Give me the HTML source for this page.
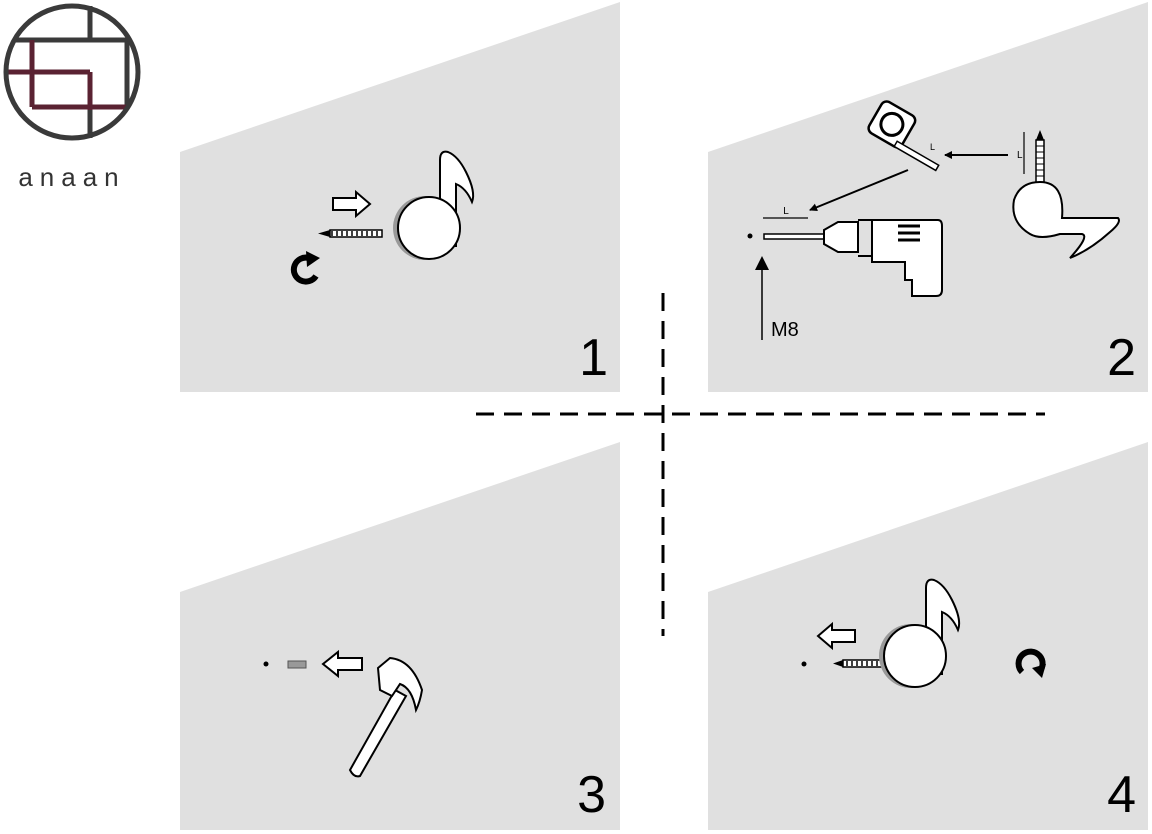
<!DOCTYPE html>
<html><head><meta charset="utf-8"><style>
html,body{margin:0;padding:0;background:#fff;}
svg{display:block;}
text{font-family:"Liberation Sans",sans-serif;}
</style></head><body>
<svg width="1152" height="834" viewBox="0 0 1152 834" xmlns="http://www.w3.org/2000/svg">
<defs>
<marker id="ah" markerWidth="8" markerHeight="8" refX="7" refY="4" orient="auto" markerUnits="userSpaceOnUse"><path d="M0,0 L8,4 L0,8z" fill="#000"/></marker>
<marker id="ahb" markerWidth="14" markerHeight="14" refX="12" refY="7" orient="auto" markerUnits="userSpaceOnUse"><path d="M0,0 L14,7 L0,14z" fill="#000"/></marker>
</defs>
<g fill="#e0e0e0">
<polygon points="180,152 620,2 620,392 180,392"/>
<polygon points="708,152 1148,2 1148,392 708,392"/>
<polygon points="180,592 620,442 620,830 180,830"/>
<polygon points="708,592 1148,442 1148,830 708,830"/>
</g>
<line x1="663" y1="293" x2="663" y2="636" stroke="#000" stroke-width="3" stroke-dasharray="18,10"/>
<line x1="476" y1="414" x2="1045" y2="414" stroke="#000" stroke-width="3" stroke-dasharray="18,10"/>
<g fill="none" stroke-width="5">
<line x1="90" y1="6" x2="90" y2="40" stroke="#3a3a3a"/>
<line x1="14" y1="40" x2="129" y2="40" stroke="#3a3a3a"/>
<line x1="127" y1="40" x2="127" y2="107" stroke="#3a3a3a"/>
<line x1="90" y1="107" x2="90" y2="138" stroke="#3a3a3a"/>
<line x1="32" y1="40" x2="32" y2="107" stroke="#5a2232"/>
<line x1="6" y1="72" x2="90" y2="72" stroke="#5a2232"/>
<line x1="90" y1="72" x2="90" y2="110" stroke="#5a2232"/>
<line x1="32" y1="107" x2="127" y2="107" stroke="#5a2232"/>
<circle cx="72" cy="72" r="66" stroke="#3a3a3a" stroke-width="5"/>
</g>
<text x="72" y="186" font-size="26" fill="#333" text-anchor="middle" letter-spacing="7">anaan</text>
<g id="n1">
<path d="M440,246 L440,160 Q440,150 448,152 Q458,156 466,172 Q476,192 472,202 Q466,188 456,184 L456,246z" fill="#fff" stroke="#000" stroke-width="2"/>
<circle cx="425" cy="228" r="32" fill="#999"/>
<circle cx="429" cy="228" r="31" fill="#fff" stroke="#000" stroke-width="2"/>
</g>
<path d="M333,198 L356,198 L356,192 L370,204 L356,216 L356,210 L333,210z" fill="#fff" stroke="#000" stroke-width="2"/>
<rect x="330" y="230" width="52" height="7" fill="#fff" stroke="#000" stroke-width="1.5"/>
<path d="M332,231 v5 M337,231 v5 M342,231 v5 M347,231 v5 M352,231 v5 M357,231 v5 M362,231 v5 M367,231 v5 M372,231 v5 M377,231 v5" stroke="#000" stroke-width="1.5"/>
<path d="M330,230 L318,233.5 L330,237z" fill="#000"/>
<path d="M316,276 A12,12 0 1,1 309,258" fill="none" stroke="#000" stroke-width="6"/>
<path d="M306,251 L320,258 L307,267z" fill="#000"/>
<text x="608" y="375" font-size="52" text-anchor="end">1</text>
<circle cx="750" cy="236" r="2.5" fill="#000"/>
<line x1="763" y1="218" x2="808" y2="218" stroke="#000" stroke-width="1.2"/>
<text x="786" y="214" font-size="10" text-anchor="middle">L</text>
<rect x="764" y="234" width="60" height="5" fill="#fff" stroke="#000" stroke-width="1.5"/>
<path d="M824,230 L838,222 L858,222 L858,252 L838,252 L824,244z" fill="#fff" stroke="#000" stroke-width="2"/>
<path d="M872,220 L938,220 Q942,220 942,226 L942,290 Q942,296 936,296 L912,296 L912,280 L905,280 L905,262 L872,262z" fill="#fff" stroke="#000" stroke-width="2"/>
<line x1="858" y1="220" x2="872" y2="220" stroke="#000" stroke-width="2"/>
<line x1="858" y1="256" x2="872" y2="256" stroke="#000" stroke-width="2"/>
<path d="M898,226 h22 M898,233 h22 M898,240 h22" stroke="#000" stroke-width="3"/>
<line x1="762" y1="340" x2="762" y2="258" stroke="#000" stroke-width="1.5" marker-end="url(#ahb)"/>
<text x="771" y="336" font-size="20">M8</text>
<line x1="908" y1="170" x2="810" y2="210" stroke="#000" stroke-width="2" marker-end="url(#ah)"/>
<line x1="1008" y1="155" x2="945" y2="155" stroke="#000" stroke-width="2" marker-end="url(#ah)"/>
<text x="1017" y="158" font-size="10">L</text>
<line x1="1024" y1="132" x2="1024" y2="174" stroke="#000" stroke-width="1.2"/>
<g transform="rotate(30 895 125)">
<rect x="873" y="108" width="38" height="36" rx="6" fill="#fff" stroke="#000" stroke-width="2.5"/>
<circle cx="892" cy="126" r="11" fill="#fff" stroke="#000" stroke-width="3"/>
<rect x="905" y="138" width="48" height="6" fill="#fff" stroke="#000" stroke-width="1.5"/>
</g>
<text x="930" y="150" font-size="9">L</text>
<rect x="1036" y="140" width="8" height="44" fill="#fff" stroke="#000" stroke-width="1.5"/>
<path d="M1036,146 h8 M1036,152 h8 M1036,158 h8 M1036,164 h8 M1036,170 h8 M1036,176 h8" stroke="#000"/>
<path d="M1036,140 L1040,130 L1044,140z" fill="#000"/>
<path d="M1040,182 Q1065,182 1062,218 L1118,218 Q1122,222 1110,232 Q1090,250 1070,258 Q1090,236 1082,234 L1060,234 Q1040,240 1030,234 Q1010,222 1014,200 Q1020,182 1040,182z" fill="#fff" stroke="#000" stroke-width="2"/>
<text x="1136" y="375" font-size="52" text-anchor="end">2</text>
<circle cx="266" cy="664" r="2.5" fill="#000"/>
<rect x="288" y="661" width="18" height="7" fill="#999" stroke="#555"/>
<path d="M362,658 L338,658 L338,652 L323,664 L338,676 L338,670 L362,670z" fill="#fff" stroke="#000" stroke-width="2"/>
<path d="M395,690 L350,770 Q354,778 360,776 L406,696z" fill="#fff" stroke="#000" stroke-width="2"/>
<path d="M378,668 L390,658 Q412,660 422,690 Q420,702 416,710 Q412,688 400,684 L392,696 L380,690z" fill="#fff" stroke="#000" stroke-width="2"/>
<text x="606" y="812" font-size="52" text-anchor="end">3</text>
<circle cx="804" cy="664" r="2.5" fill="#000"/>
<path d="M855,630 L832,630 L832,624 L818,636 L832,648 L832,642 L855,642z" fill="#fff" stroke="#000" stroke-width="2"/>
<rect x="843" y="660" width="40" height="7" fill="#fff" stroke="#000" stroke-width="1.5"/>
<path d="M847,661 v5 M852,661 v5 M857,661 v5 M862,661 v5 M867,661 v5 M872,661 v5 M877,661 v5" stroke="#000" stroke-width="1.5"/>
<path d="M843,660 L833,663.5 L843,667z" fill="#000"/>
<g transform="translate(486,428)"><use href="#n1"/></g>
<path d="M1022,672 A12,12 0 1,1 1038,673" fill="none" stroke="#000" stroke-width="6"/>
<path d="M1032,668 L1046,664 L1042,678z" fill="#000"/>
<text x="1136" y="812" font-size="52" text-anchor="end">4</text>
</svg>
</body></html>
